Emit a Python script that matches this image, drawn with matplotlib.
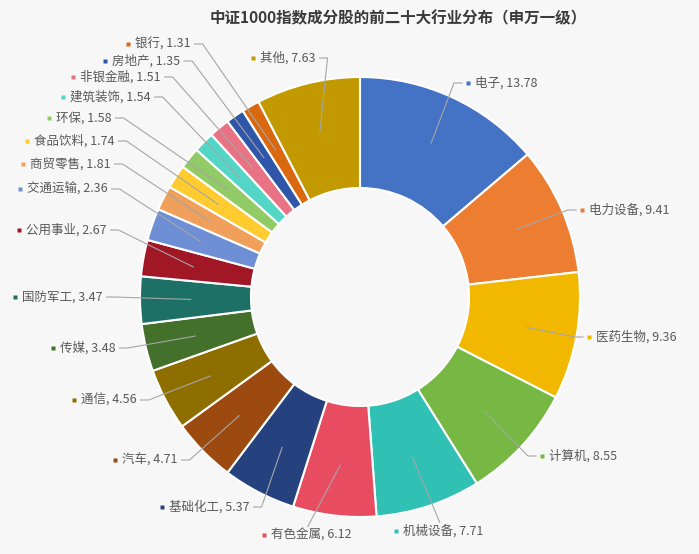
import matplotlib
matplotlib.use("Agg")
import matplotlib.pyplot as plt
import numpy as np

plt.rcParams['font.family'] = ['Noto Sans CJK SC', 'DejaVu Sans']

title = "中证1000指数成分股的前二十大行业分布（申万一级）"
industries = ["电子", "电力设备", "医药生物", "计算机", "机械设备", "有色金属", "基础化工",
              "汽车", "通信", "传媒", "国防军工", "公用事业", "交通运输", "商贸零售",
              "食品饮料", "环保", "建筑装饰", "非银金融", "房地产", "银行", "其他"]
weights = [13.78, 9.41, 9.36, 8.55, 7.71, 6.12, 5.37, 4.71, 4.56, 3.48, 3.47,
           2.67, 2.36, 1.81, 1.74, 1.58, 1.54, 1.51, 1.35, 1.31, 7.63]
colors = ["#4472C4", "#ED7D31", "#F2B800", "#76B843", "#31C0B4", "#E84C61", "#25427F",
          "#9C4A0F", "#8F6E00", "#43702A", "#1D7065", "#A11725", "#6E8FD6", "#F0A05A",
          "#FFCB2F", "#91CB65", "#54D6C6", "#E97284", "#2F56A8", "#D9680E", "#C29A00"]

# label spots in pixels from top-left: marker x, text y
label_x = [468, 582, 589, 542, 396, 264, 162, 115, 74, 53, 15, 19, 20, 23,
           27, 49, 63, 73, 105, 128, 253]
label_y = [83, 210, 337, 456, 531, 535, 507, 460, 400, 348, 297, 230, 189, 164,
           141, 118, 97, 77, 61, 44, 58]

W, H = 699, 554
bg = '#f7f7f7'
fig = plt.figure(figsize=(W / 100, H / 100), dpi=100, facecolor=bg)
ax = fig.add_axes([0, 0, 1, 1])
ax.set_facecolor(bg)

cx, cy, R = 360, H - 297, 220
wedges, _ = ax.pie(weights, colors=colors, startangle=90, counterclock=False,
                   radius=R, center=(cx, cy),
                   wedgeprops=dict(width=111, edgecolor='white', linewidth=1.5))
ax.set_xlim(0, W)
ax.set_ylim(0, H)
ax.set_aspect('equal')
ax.axis('off')

fig.text(398 / W, 1 - 18 / H, title, ha='center', va='center', fontsize=11.2,
         fontweight='bold', color='#3a3a3a')

texts = []
for i in range(len(wedges)):
    mx, my = label_x[i], H - label_y[i]
    ax.plot(mx, my, marker='s', ms=3.5, color=colors[i], mec='none')
    t = ax.text(mx + 7, my, f'{industries[i]}, {weights[i]:.2f}', ha='left',
                va='center', fontsize=9, color='#595959')
    texts.append(t)

fig.canvas.draw()
rend = fig.canvas.get_renderer()
inv = ax.transData.inverted()
for i, w in enumerate(wedges):
    mid = np.deg2rad((w.theta1 + w.theta2) / 2)
    axp = cx + 0.77 * R * np.cos(mid)
    ayp = cy + 0.77 * R * np.sin(mid)
    bb = texts[i].get_window_extent(rend)
    (x0, y0), (x1, y1) = inv.transform([[bb.x0, bb.y0], [bb.x1, bb.y1]])
    ly = H - label_y[i]
    if ly < ayp and label_x[i] <= axp <= x1:
        xs = [axp, (label_x[i] + x1) / 2]
        ys = [ayp, y1 + 2]
    elif axp < label_x[i]:
        px = label_x[i] - 6
        xs = [axp, px - 8, px]
        ys = [ayp, ly, ly]
    else:
        px = x1 + 4
        xs = [axp, px + 8, px]
        ys = [ayp, ly, ly]
    ax.plot(xs, ys, color='#a6a6a6', lw=0.8)

fig.savefig('out.png', dpi=100, facecolor=bg)
